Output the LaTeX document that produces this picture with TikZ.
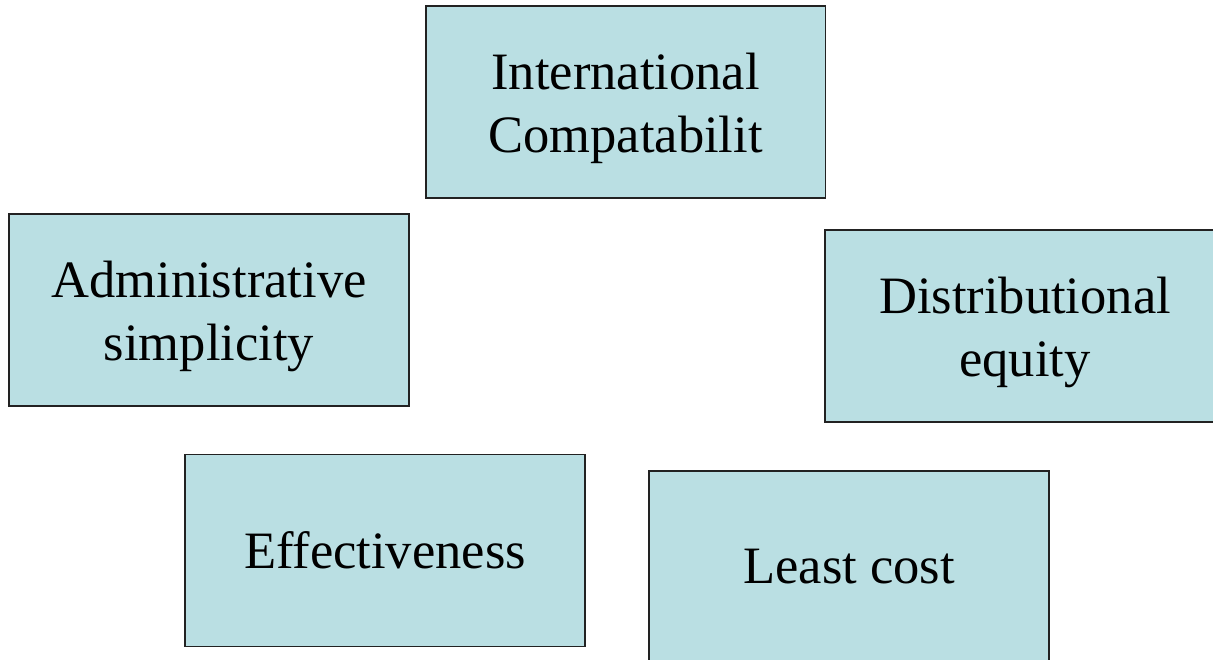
\documentclass[tikz,border=0pt]{standalone}
\usepackage{fontspec}
\setmainfont{Liberation Serif}
\usepackage{tikz}
\definecolor{boxfill}{HTML}{BADFE3}
\definecolor{boxline}{HTML}{222222}

\begin{document}
\begin{tikzpicture}[
  x=0.02cm, y=-0.02cm,
  font=\fontsize{29.9}{35.9}\selectfont,
  goalbox/.style={draw=boxline, fill=boxfill, line width=1.1pt, align=center,
    minimum width=8cm, minimum height=3.84cm, inner sep=0pt},
  twoline/.style={text height=2.23cm}
]
\useasboundingbox (0,0) rectangle (1213,659);
\clip (0,0) rectangle (1213,659);
\node[goalbox, twoline] (intl) at (625.5,102) {International\\Compatabilit};
\node[goalbox, twoline] (admin) at (209,310) {Administrative\\simplicity};
\node[goalbox, twoline] (distr) at (1025,326) {Distributional\\equity};
\node[goalbox] (effect) at (385,550.5) {Effectiveness};
\node[goalbox] (least) at (849,567) {Least cost};
\end{tikzpicture}
\end{document}
